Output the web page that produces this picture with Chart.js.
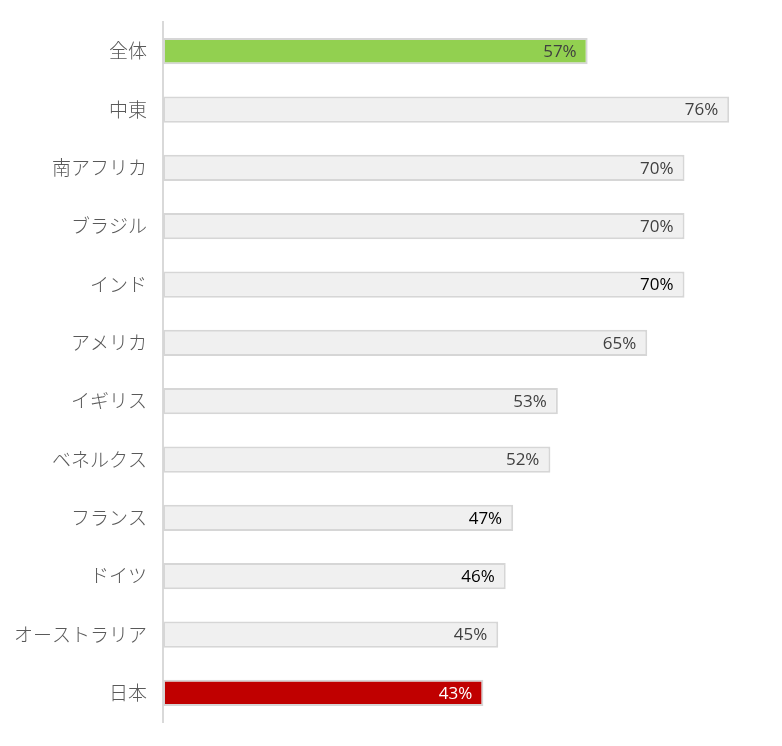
<!DOCTYPE html>
<html>
<head>
<meta charset="utf-8">
<script src="https://cdn.jsdelivr.net/npm/chart.js@4"></script>
<style>
  html, body { margin: 0; padding: 0; background: #fff; }
  #wrap { width: 782px; height: 746px; }
</style>
</head>
<body>
<div id="wrap"><canvas id="myChart"></canvas></div>
<script>
// datos
var categorias = ['全体', '中東', '南アフリカ', 'ブラジル', 'インド', 'アメリカ', 'イギリス', 'ベネルクス', 'フランス', 'ドイツ', 'オーストラリア', '日本'];
var valores = [57, 76, 70, 70, 70, 65, 53, 52, 47, 46, 45, 43];

// colores de cada barra y de su etiqueta
var colorBarra = ['#92d050', '#f0f0f0', '#f0f0f0', '#f0f0f0', '#f0f0f0', '#f0f0f0', '#f0f0f0', '#f0f0f0', '#f0f0f0', '#f0f0f0', '#f0f0f0', '#c00000'];
var colorEtiqueta = ['#404040', '#404040', '#404040', '#404040', '#000000', '#404040', '#404040', '#404040', '#000000', '#000000', '#404040', '#ffffff'];

//plugin para escribir el % al final de cada barra
var etiquetas = {
  id: 'etiquetas',
  afterDatasetsDraw: function(chart){
    var ctx = chart.ctx;
    var meta = chart.getDatasetMeta(0);
    ctx.save();
    ctx.font = '17px "Open Sans", "Noto Sans", sans-serif';
    ctx.textAlign = 'right';
    ctx.textBaseline = 'middle';
    meta.data.forEach(function(bar, i){
      ctx.fillStyle = colorEtiqueta[i];
      ctx.fillText(valores[i] + '%', bar.x - 11, bar.y + 1);
    });
    ctx.restore();
  }
};

let myChart = document.getElementById('myChart').getContext('2d');
let barChart = new Chart(myChart, {
  type: 'bar',
  data: {
    labels: categorias,
    datasets: [{
      data: valores,
      backgroundColor: colorBarra,
      borderColor: '#d6d6d6',
      borderWidth: 2,
      borderSkipped: false,
      barPercentage: 0.45,
      categoryPercentage: 1
    }]
  },
  options: {
    indexAxis: 'y',
    responsive: true,
    maintainAspectRatio: false,
    animation: false,
    plugins: {
      legend: { display: false },
      tooltip: { enabled: false }
    },
    layout: {
      padding: { left: 0, right: 23, top: 22, bottom: 24 }
    },
    scales: {
      x: {
        display: false,
        min: 0,
        max: 80
      },
      y: {
        afterFit: function(scale){
          scale.width = 163;
          scale.paddingTop = 0;
          scale.paddingBottom = 0;
        },
        grid: { display: false, drawTicks: false },
        border: { display: true, color: '#d9d9d9', width: 2 },
        ticks: {
          color: '#595959',
          padding: 16,
          font: { family: '"Noto Sans CJK JP", sans-serif', size: 19, weight: '300' }
        }
      }
    }
  },
  plugins: [etiquetas]
});
</script>
</body>
</html>
